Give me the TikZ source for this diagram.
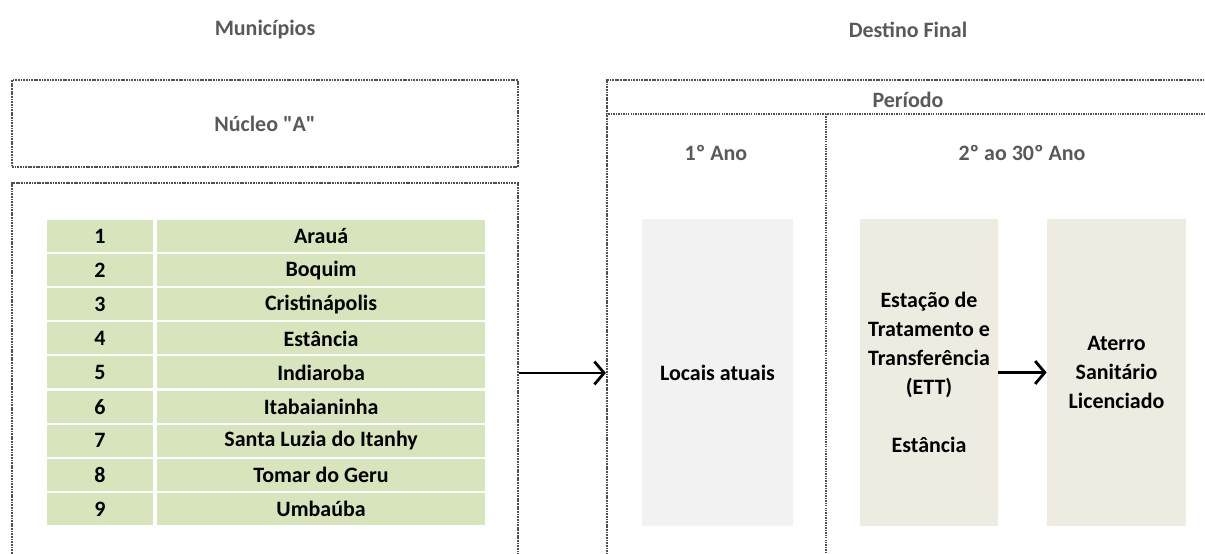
\documentclass[tikz,border=0pt]{standalone}
\usepackage{fontspec}
\setmainfont{Carlito}[Ligatures=TeXOff]
\usetikzlibrary{arrows.meta, positioning}
\definecolor{titlegray}{HTML}{595959}
\definecolor{tablegreen}{HTML}{D8E4BC}
\definecolor{boxgray}{HTML}{F2F2F2}
\definecolor{boxbeige}{HTML}{EEECE1}
\definecolor{framegray}{HTML}{505050}
\tikzset{
	frame/.style={draw=framegray, line width=1.3pt, dash pattern=on 1pt off 0.5pt, inner sep=0pt},
	thinframe/.style={draw=framegray, line width=0.7pt, dash pattern=on 0.8pt off 0.6pt},
	heading/.style={text=titlegray},
	cell/.style={fill=tablegreen, draw=white, line width=1.2pt, minimum height=0.682cm, inner sep=0pt},
	stage/.style={minimum height=6.14cm, inner sep=0pt, align=center},
	flow/.style={-{Straight Barb[length=5.5pt,width=13pt]}, line width=1.6pt}
}
\begin{document}
\begin{tikzpicture}[x=0.02cm, y=-0.02cm]
				\tikzstyle{every node}=[font=\bfseries\fontsize{12.5}{16.5}\selectfont]
				\useasboundingbox (0,0) rectangle (1205,554);
				\clip (0,0) rectangle (1205,554);
				
				\node[heading] (municipios) at (265,30) {Municípios};
				\node[heading] (destino) at (908,30) {Destino Final};
				
				% lado esquerdo
				\node[frame, heading, minimum width=10.12cm, minimum height=1.74cm] (nucleo) at (265,123.5) {Núcleo "A"};
				\node[frame, minimum width=10.12cm, minimum height=7.6cm] (munbox) at (265,373) {};
				
				\foreach \nome [count=\i] in {Arauá, Boquim, Cristinápolis, Estância, Indiaroba, Itabaianinha, Santa Luzia do Itanhy, Tomar do Geru, Umbaúba}
				{
				\node[cell, minimum width=2.16cm] (num\i) at (100,{236.05+34.11*(\i-1)}) {\i};
				\node[cell, minimum width=6.6cm, right=0pt of num\i] (mun\i) {\nome};
				}
				
				% lado direito
				\node[frame, minimum width=12.16cm, minimum height=11.72cm] (destbox) at (911,373) {};
				\draw [thinframe] (destbox.west |- 0,114) -- (destbox.east |- 0,114);
				\draw [thinframe] (826,114) -- (826,666);
				
				\node[heading] (periodo) at (908,100) {Período};
				\node[heading] (ano1) at (716,153) {1º Ano};
				\node[heading] (ano2) at (1022,153) {2º ao 30º Ano};
				
				\node[stage, fill=boxgray, minimum width=3.02cm] (locais) at (717.5,372.5) {Locais atuais};
				\node[stage, fill=boxbeige, minimum width=2.76cm] (ett) at (929,372.5) {Estação de\\Tratamento e\\Transferência\\(ETT)\\[16.5pt]Estância};
				\node[stage, fill=boxbeige, minimum width=2.78cm] (aterro) at (1116.5,372.5) {Aterro\\Sanitário\\Licenciado};
				
				\draw [flow] (munbox.east) -- (destbox.west |- munbox.east);
				\draw [flow] (ett.east) -- (aterro.west);
				
\end{tikzpicture}
\end{document}
